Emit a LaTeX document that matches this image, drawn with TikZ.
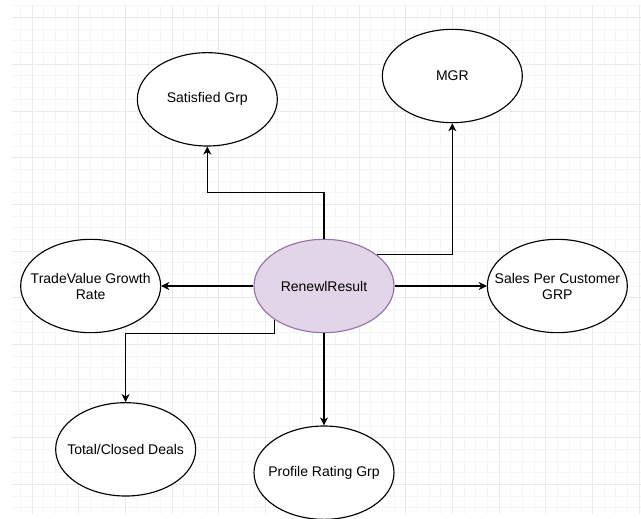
\documentclass[tikz,border=0pt]{standalone}
\usepackage{fontspec}
\setmainfont{Liberation Sans}
\usetikzlibrary{shapes.geometric,arrows.meta}
\definecolor{gridminor}{HTML}{F6F6F6}
\definecolor{gridmajor}{HTML}{EAEAEA}
\definecolor{renewfill}{HTML}{E1D5E7}
\definecolor{renewline}{HTML}{9673A6}
\tikzset{
  entity/.style={draw=black, line width=0.85pt, ellipse, fill=white, minimum width=105pt, minimum height=70pt, inner sep=-12pt, align=center, font=\fontsize{10.5}{12}\selectfont},
  link/.style={draw=black, line width=0.85pt, -{Stealth[length=6pt,width=6pt,inset=1.8pt]}},
}

\begin{document}
\begin{tikzpicture}[x=0.875pt,y=0.875pt,yscale=-1,xscale=1]
    \useasboundingbox (-27.71,-15.14) rectangle (521.71,428.86);

    %Grid
    \foreach \gx in {-10,0,...,520} \draw[gridminor, line width=0.75pt] (\gx,-10.86) -- (\gx,425);
    \foreach \gy in {-10,0,...,420} \draw[gridminor, line width=0.75pt] (-17.4,\gy) -- (521.71,\gy);
    \foreach \gx in {0,40,...,520} \draw[gridmajor, line width=0.75pt] (\gx,-10.86) -- (\gx,425);
    \foreach \gy in {0,40,...,400} \draw[gridmajor, line width=0.75pt] (-17.4,\gy) -- (521.71,\gy);

    %Shape: Ellipses
    \node[entity, fill=renewfill, draw=renewline] (renewl) at (250,230) {RenewlResult};
    \node[entity] (satisfied) at (150,70) {Satisfied Grp};
    \node[entity] (mgr) at (360,50) {MGR};
    \node[entity] (tradevalue) at (50,230) {TradeValue Growth\\Rate};
    \node[entity] (sales) at (450,230) {Sales Per Customer\\GRP};
    \node[entity] (deals) at (80,370) {Total/Closed Deals};
    \node[entity] (profile) at (250,390) {Profile Rating Grp};

    %Connectors
    \draw[link] (renewl.north) -- ++(0,-40) -| (satisfied.south);
    \draw[link] (renewl.31.4) -| (mgr.south);
    \draw[link] (renewl.west) -- (tradevalue.east);
    \draw[link] (renewl.east) -- (sales.west);
    \draw[link] (renewl.214.2) |- (deals.north |- renewl.south) -- (deals.north);
    \draw[link] (renewl.south) -- (profile.north);

\end{tikzpicture}
\end{document}
